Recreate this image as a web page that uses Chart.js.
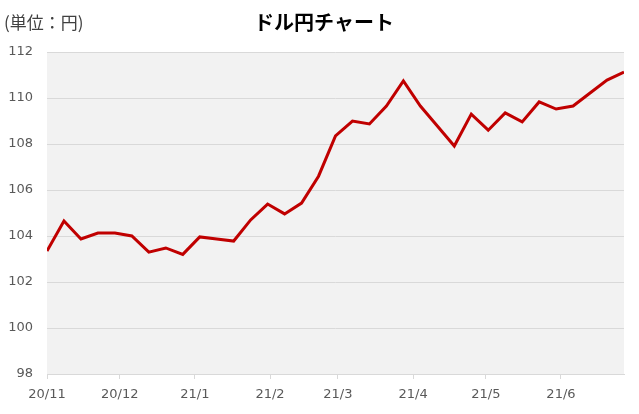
<!DOCTYPE html>
<html>
<head>
<meta charset="utf-8">
<script src="https://cdn.jsdelivr.net/npm/chart.js@4"></script>
<style>
  html, body { margin: 0; padding: 0; background: #fff; }
  #wrap { position: relative; width: 639px; height: 414px; }
</style>
</head>
<body>
<div id="wrap"><canvas id="myChart" width="639" height="414"></canvas></div>
<script>
// weekly closing rates (yen per dollar)
var weeks = [
  '2020-11-01', '2020-11-08', '2020-11-15', '2020-11-22', '2020-11-29',
  '2020-12-06', '2020-12-13', '2020-12-20', '2020-12-27', '2021-01-03',
  '2021-01-10', '2021-01-17', '2021-01-24', '2021-01-31', '2021-02-07',
  '2021-02-14', '2021-02-21', '2021-02-28', '2021-03-07', '2021-03-14',
  '2021-03-21', '2021-03-28', '2021-04-04', '2021-04-11', '2021-04-18',
  '2021-04-25', '2021-05-02', '2021-05-09', '2021-05-16', '2021-05-23',
  '2021-05-30', '2021-06-06', '2021-06-13', '2021-06-20', '2021-06-27'
];
var rates = [
  103.35, 104.65, 103.87, 104.13, 104.13,
  104.0, 103.3, 103.48, 103.2, 103.96,
  103.87, 103.78, 104.7, 105.39, 104.96,
  105.43, 106.6, 108.35, 109.0, 108.87,
  109.65, 110.74, 109.65, 108.78, 107.91,
  109.3, 108.6, 109.35, 108.96, 109.83,
  109.52, 109.65, 110.22, 110.78, 111.13
];
var monthStarts = ['2020-11-01', '2020-12-01', '2021-01-01', '2021-02-01',
  '2021-03-01', '2021-04-01', '2021-05-01', '2021-06-01'];
var monthLabels = ['20/11', '20/12', '21/1', '21/2', '21/3', '21/4', '21/5', '21/6'];

var DAY = 86400000;
var t0 = Date.parse(weeks[0]);
function dayOf(s) { return Math.round((Date.parse(s) - t0) / DAY); }

var points = weeks.map(function (w, i) { return { x: dayOf(w), y: rates[i] }; });
var tickDays = monthStarts.map(dayOf);

var textPlugin = {
  id: 'texts',
  beforeDraw: function (chart) {
    var c = chart.ctx, a = chart.chartArea;
    c.save();
    c.fillStyle = '#f2f2f2';
    c.fillRect(a.left, a.top, a.right - a.left, a.bottom - a.top);
    c.restore();
  },
  afterDraw: function (chart) {
    var c = chart.ctx;
    c.save();
    c.textBaseline = 'middle';
    c.fillStyle = '#404040';
    c.textAlign = 'left';
    c.font = '17px "Noto Sans CJK JP"';
    c.fillText('(単位：円)', 4, 23);
    c.fillStyle = '#000000';
    c.textAlign = 'center';
    c.font = 'bold 20px "Noto Sans CJK JP"';
    c.fillText('ドル円チャート', 324, 22);
    c.restore();
  }
};

var ctx = document.getElementById('myChart').getContext('2d');
var chart = new Chart(ctx, {
  type: 'line',
  data: {
    datasets: [{
      label: 'USD/JPY',
      data: points,
      borderColor: '#c00000',
      borderWidth: 3,
      pointRadius: 0,
      tension: 0,
      fill: false
    }]
  },
  options: {
    responsive: false,
    animation: false,
    layout: { padding: { left: 0, right: 15, top: 52, bottom: 0 } },
    plugins: {
      legend: { display: false },
      tooltip: { enabled: false }
    },
    scales: {
      x: {
        type: 'linear',
        min: 0,
        max: dayOf(weeks[weeks.length - 1]),
        afterBuildTicks: function (scale) {
          scale.ticks = tickDays.map(function (d) { return { value: d }; });
        },
        afterFit: function (scale) { scale.height = 40; },
        ticks: {
          autoSkip: false,
          maxRotation: 0,
          padding: 8,
          color: '#595959',
          font: { family: '"DejaVu Sans"', size: 13 },
          callback: function (v) {
            var i = tickDays.indexOf(v);
            return i >= 0 ? monthLabels[i] : '';
          }
        },
        grid: { drawOnChartArea: false, tickLength: 5, color: '#d9d9d9' },
        border: { display: true, color: '#d9d9d9' }
      },
      y: {
        min: 98,
        max: 112,
        afterFit: function (scale) { scale.width = 47; },
        ticks: {
          stepSize: 2,
          padding: 14,
          color: '#595959',
          font: { family: '"DejaVu Sans"', size: 13 }
        },
        grid: { drawTicks: false, color: '#d9d9d9' },
        border: { display: false }
      }
    }
  },
  plugins: [textPlugin]
});
</script>
</body>
</html>
